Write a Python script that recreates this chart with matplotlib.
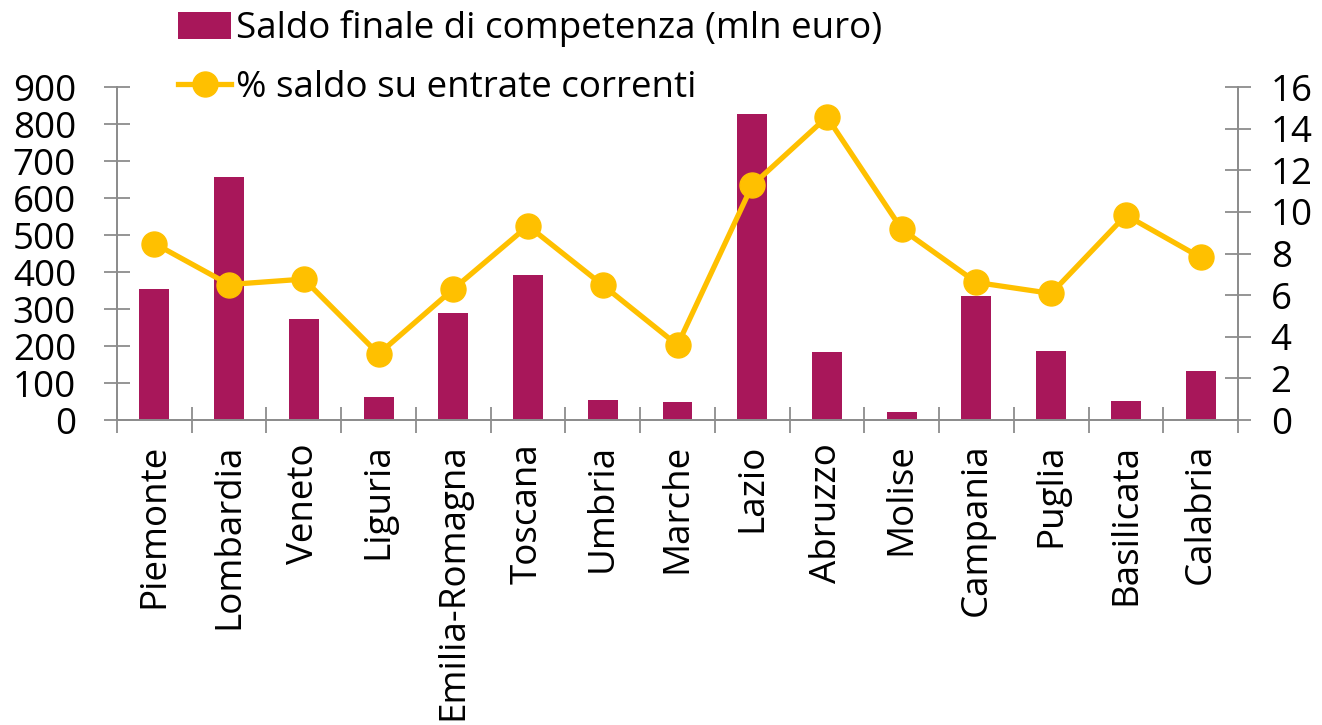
import numpy as np
import matplotlib
matplotlib.use('Agg')
import matplotlib.pyplot as plt

# DATA
REGIONS = ['Piemonte', 'Lombardia', 'Veneto', 'Liguria', 'Emilia-Romagna', 'Toscana', 'Umbria',
           'Marche', 'Lazio', 'Abruzzo', 'Molise', 'Campania', 'Puglia', 'Basilicata', 'Calabria']
SALDO = [354, 657, 273, 61, 288, 393, 53, 49, 828, 183, 22, 336, 186, 51, 133]
PCT_SALDO = [8.48, 6.51, 6.77, 3.17, 6.29, 9.33, 6.48, 3.6, 11.28, 14.56, 9.17, 6.61, 6.08, 9.84, 7.81]
LEFT_TICKS = list(range(0, 901, 100))
RIGHT_TICKS = list(range(0, 17, 2))

BAR_COLOR = '#A8175A'
LINE_COLOR = '#FFC000'
AXIS_COLOR = '#8C8C8C'
FS = 26.5

plt.rcParams['font.family'] = ['Open Sans', 'DejaVu Sans']

fig = plt.figure(figsize=(13.22, 7.25), dpi=100)
ax = fig.add_axes([117/1322, 1 - 420/725, (1238 - 117)/1322, (420 - 87)/725])
ax2 = ax.twinx()

x = np.arange(len(REGIONS))
bars = ax.bar(x, SALDO, width=0.4, color=BAR_COLOR, label='Saldo finale di competenza (mln euro)')
line, = ax2.plot(x, PCT_SALDO, color=LINE_COLOR, lw=3.8, marker='o', markersize=18,
                 label='% saldo su entrate correnti')

ax.set_xlim(-0.5, len(REGIONS) - 0.5)
ax.set_ylim(0, 900)
ax2.set_ylim(0, 16)
ax.set_yticks(LEFT_TICKS)
ax2.set_yticks(RIGHT_TICKS)

# category boundaries as major ticks, names on minor ticks
ax.set_xticks(np.arange(-0.5, len(REGIONS), 1))
ax.set_xticklabels([])
ax.set_xticks(x, minor=True)
ax.set_xticklabels(REGIONS, minor=True, rotation=90, fontsize=FS)
ax.tick_params(axis='x', which='major', direction='inout', length=19, width=1.3, color=AXIS_COLOR)
ax.tick_params(axis='x', which='minor', length=0, pad=17)

ax.tick_params(axis='y', direction='inout', length=19, width=1.3, color=AXIS_COLOR, labelsize=FS, pad=20)
ax2.tick_params(axis='y', direction='inout', length=19, width=1.3, color=AXIS_COLOR, labelsize=FS, pad=14)

for a in (ax, ax2):
    a.spines['top'].set_visible(False)
    for s in ('left', 'right', 'bottom'):
        a.spines[s].set_color(AXIS_COLOR)
        a.spines[s].set_linewidth(1.3)

fig.legend(handles=[bars, line], loc='upper left', bbox_to_anchor=(178/1322, 1 - 10/725),
           frameon=False, fontsize=FS, borderaxespad=0, borderpad=0, handlelength=1.45,
           handleheight=0.75, handletextpad=0.12, labelspacing=0.62)

fig.savefig('out.png', dpi=100)
